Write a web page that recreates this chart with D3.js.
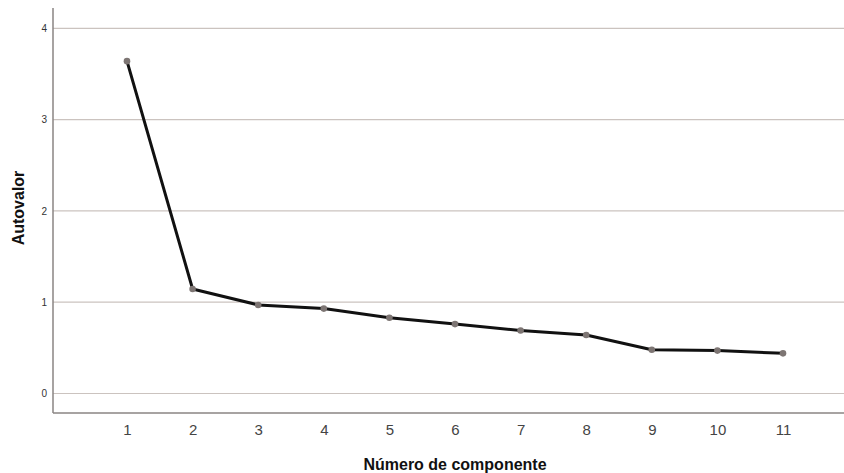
<!DOCTYPE html>
<html><head><meta charset="utf-8">
<script src="https://cdn.jsdelivr.net/npm/d3@7"></script>
<style>body{margin:0;background:#fff}svg{display:block}</style>
</head><body><svg id="c" width="844" height="473"></svg>
<script>
const components = [1,2,3,4,5,6,7,8,9,10,11];
const eigenvalues = [3.64,1.145,0.97,0.93,0.83,0.76,0.69,0.64,0.48,0.47,0.44];
const yTicks = [0,1,2,3,4];
const xTitle = "Número de componente";
const yTitle = "Autovalor";

(function(){
const svg = d3.select("#c");
const mLeft = 53, mRight = 844, mTop = 8, mBottom = 413;
const x = d3.scaleLinear().domain([1,11]).range([127,783]);
const y = d3.scaleLinear().domain([0,4]).range([393.5,28.3]);
const font = "Arial, 'Liberation Sans', sans-serif";

// gridlines
svg.append("g").selectAll("line").data(yTicks).join("line")
  .attr("x1", mLeft).attr("x2", 844).attr("y1", d=>y(d)).attr("y2", d=>y(d))
  .attr("stroke", "#cbc3bf").attr("stroke-width", 1.2);

// axes lines
svg.append("line").attr("x1", mLeft).attr("x2", mLeft).attr("y1", mTop).attr("y2", mBottom)
  .attr("stroke", "#8a8583").attr("stroke-width", 1.5);
svg.append("line").attr("x1", mLeft).attr("x2", mRight).attr("y1", mBottom).attr("y2", mBottom)
  .attr("stroke", "#8a8583").attr("stroke-width", 1.5);

// y tick labels
const yAxis = d3.axisLeft(y).tickValues(yTicks).tickSize(0).tickPadding(0).tickFormat(d3.format("d"));
const gy = svg.append("g").attr("transform", `translate(${mLeft-6},0)`).call(yAxis);
gy.select(".domain").remove();
gy.selectAll("text").attr("font-family",font).attr("font-size",10).attr("fill","#333");

// x tick labels
const xAxis = d3.axisBottom(x).tickValues(components).tickSize(0).tickPadding(0).tickFormat(d3.format("d"));
const gx = svg.append("g").attr("transform", `translate(0,${mBottom+11})`).call(xAxis);
gx.select(".domain").remove();
gx.selectAll("text").attr("font-family",font).attr("font-size",15).attr("fill","#444");

// line
const line = d3.line().x((d,i)=>x(components[i])).y(d=>y(d));
svg.append("path").datum(eigenvalues).attr("d", line)
  .attr("fill","none").attr("stroke","#111").attr("stroke-width",3).attr("stroke-linejoin","round");
svg.append("g").selectAll("circle").data(eigenvalues).join("circle")
  .attr("cx",(d,i)=>x(components[i])).attr("cy",d=>y(d)).attr("r",3.3)
  .attr("fill","#7d7573");

// titles
svg.append("text").attr("x", 455).attr("y", 470).attr("text-anchor","middle")
  .attr("font-family",font).attr("font-size",16).attr("font-weight","bold").attr("fill","#111")
  .text(xTitle);
svg.append("text").attr("transform","translate(24,208) rotate(-90)").attr("text-anchor","middle")
  .attr("font-family",font).attr("font-size",16).attr("font-weight","bold").attr("fill","#111")
  .text(yTitle);
})();
</script></body></html>
